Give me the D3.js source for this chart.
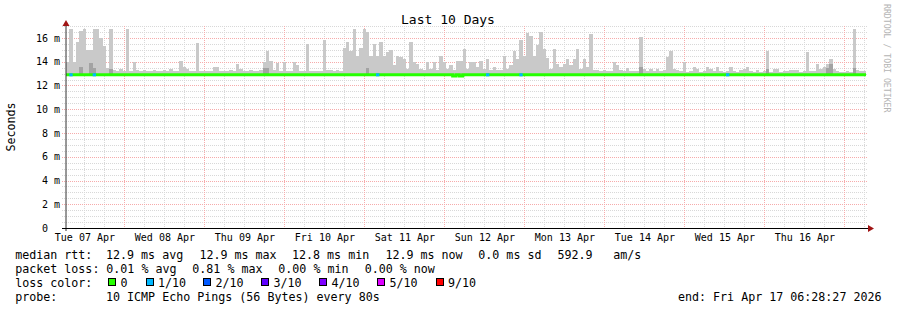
<!DOCTYPE html>
<html>
<head>
<meta charset="utf-8">
<script src="https://cdn.jsdelivr.net/npm/d3@7"></script>
<style>
body { margin: 0; background: #fff; }
svg text { font-family: "DejaVu Sans Mono", monospace; white-space: pre; }
</style>
</head>
<body>
<div class="container"></div>
<script>
const WIDTH = 897;
const HEIGHT = 310;
const PLOT_LEFT = 66;
const PLOT_RIGHT = 866;
const PLOT_BOTTOM = 228;
const PLOT_TOP = 26.125;

// graph end time, the graph covers 240 hourly buckets before it
const END_TIME = new Date(Date.UTC(2026, 3, 17, 6, 28, 27));
const HOURS = 240;

// highest ping of each hour (ms)
const smokeMax = [
    14.0, 16.8, 14.0, 15.7, 16.6, 16.8, 15.0, 15.0, 16.8, 16.8, 16.0, 15.3, 13.5, 16.8, 13.3, 13.25, 13.35, 13.2, 16.8, 13.25,
    14.0, 13.3, 13.25, 13.3, 13.25, 13.2, 13.3, 13.25, 13.2, 13.3, 13.25, 13.35, 13.2, 13.25, 14.1, 13.55, 13.4, 13.2, 13.25, 15.6,
    13.25, 13.2, 13.2, 13.25, 13.55, 13.6, 13.2, 13.25, 13.2, 13.3, 13.25, 13.8, 13.4, 13.2, 13.25, 13.3, 13.25, 13.2, 13.3, 14.0,
    14.9, 14.1, 13.3, 13.9, 13.25, 14.0, 13.2, 13.2, 13.95, 13.7, 13.2, 13.2, 15.5, 13.2, 13.2, 13.2, 13.25, 15.8, 13.3, 13.3,
    13.25, 13.3, 13.25, 15.2, 15.7, 14.9, 16.8, 14.5, 15.2, 16.8, 16.5, 14.5, 15.5, 14.5, 15.7, 14.5, 14.8, 15.0, 13.7, 14.5,
    14.4, 14.2, 13.4, 15.7, 14.0, 13.85, 13.4, 13.3, 14.0, 13.4, 14.0, 13.3, 14.5, 14.0, 13.4, 13.7, 13.3, 14.1, 14.1, 15.1,
    13.4, 14.0, 14.0, 13.56, 14.1, 13.4, 14.2, 13.3, 13.56, 13.3, 13.3, 14.5, 13.4, 13.7, 14.9, 14.26, 15.8, 14.5, 16.4, 16.2,
    14.5, 15.4, 16.5, 15.1, 14.3, 13.4, 15.1, 13.84, 13.56, 13.84, 14.26, 13.7, 14.26, 15.1, 13.4, 14.26, 13.56, 16.3, 13.3, 13.3,
    13.25, 13.3, 13.25, 13.2, 14.0, 13.7, 13.3, 13.25, 13.45, 13.25, 13.2, 13.25, 16.1, 13.4, 13.25, 13.4, 13.25, 13.4, 13.2, 13.3,
    14.4, 14.9, 13.4, 13.28, 13.2, 14.0, 13.15, 13.2, 13.56, 13.42, 13.15, 13.2, 13.6, 13.35, 13.2, 13.6, 13.25, 13.15, 13.2, 13.56,
    13.2, 13.15, 13.3, 13.35, 13.56, 13.2, 13.15, 13.3, 13.15, 13.2, 14.9, 13.15, 13.35, 13.35, 13.15, 13.2, 13.2, 13.3, 13.3, 13.3,
    13.15, 13.2, 14.8, 13.2, 13.2, 13.8, 13.4, 13.56, 13.8, 14.2, 13.4, 13.2, 13.15, 13.15, 13.2, 13.15, 16.8, 13.28, 13.2, 13.2
];

// median rtt of each hour (ms)
const median = [
    12.9, 12.9, 12.9, 12.9, 12.9, 12.9, 12.9, 12.9, 12.9, 12.9, 12.9, 12.9, 12.9, 12.9, 12.9, 12.9, 12.9, 12.9, 12.9, 12.9,
    12.9, 12.9, 12.9, 12.9, 12.9, 12.9, 12.9, 12.9, 12.9, 12.9, 12.9, 12.9, 12.9, 12.9, 12.9, 12.9, 12.9, 12.9, 12.9, 12.9,
    12.9, 12.9, 12.9, 12.9, 12.9, 12.9, 12.9, 12.9, 12.9, 12.9, 12.9, 12.9, 12.9, 12.9, 12.9, 12.9, 12.9, 12.9, 12.9, 12.9,
    12.9, 12.9, 12.9, 12.9, 12.9, 12.9, 12.9, 12.9, 12.9, 12.9, 12.9, 12.9, 12.9, 12.9, 12.9, 12.9, 12.9, 12.9, 12.9, 12.9,
    12.9, 12.9, 12.9, 12.9, 12.9, 12.9, 12.9, 12.9, 12.9, 12.9, 12.9, 12.9, 12.9, 12.9, 12.9, 12.9, 12.9, 12.9, 12.9, 12.9,
    12.9, 12.9, 12.9, 12.9, 12.9, 12.9, 12.9, 12.9, 12.9, 12.9, 12.9, 12.9, 12.9, 12.9, 12.9, 12.9, 12.8, 12.9, 12.8, 12.9,
    12.9, 12.9, 12.9, 12.9, 12.9, 12.9, 12.9, 12.9, 12.9, 12.9, 12.9, 12.9, 12.9, 12.9, 12.9, 12.9, 12.9, 12.9, 12.9, 12.9,
    12.9, 12.9, 12.9, 12.9, 12.9, 12.9, 12.9, 12.9, 12.9, 12.9, 12.9, 12.9, 12.9, 12.9, 12.9, 12.9, 12.9, 12.9, 12.9, 12.9,
    12.9, 12.9, 12.9, 12.9, 12.9, 12.9, 12.9, 12.9, 12.9, 12.9, 12.9, 12.9, 12.9, 12.9, 12.9, 12.9, 12.9, 12.9, 12.9, 12.9,
    12.9, 12.9, 12.9, 12.9, 12.9, 12.9, 12.9, 12.9, 12.9, 12.9, 12.9, 12.9, 12.9, 12.9, 12.9, 12.9, 12.9, 12.9, 12.9, 12.9,
    12.9, 12.9, 12.9, 12.9, 12.9, 12.9, 12.9, 12.9, 12.9, 12.9, 12.9, 12.9, 12.9, 12.9, 12.9, 12.9, 12.9, 12.9, 12.9, 12.9,
    12.9, 12.9, 12.9, 12.9, 12.9, 12.9, 12.9, 12.9, 12.9, 12.9, 12.9, 12.9, 12.9, 12.9, 12.9, 12.9, 12.9, 12.9, 12.9, 12.9
];

// darker inner smoke (hour index, top in ms)
const innerHours = [4, 7, 8, 13, 59, 60, 90, 172, 210, 228, 229, 236];
const innerTop = [13.6, 13.9, 13.5, 13.4, 13.5, 13.5, 13.5, 13.6, 13.4, 13.5, 13.8, 13.5];

// hours with packet loss (lost pings out of 10)
const lossHours = [1, 8, 93, 126, 136, 198];
const lossCount = [1, 1, 1, 1, 1, 1];

const yTicks = [0, 2, 4, 6, 8, 10, 12, 14, 16];

const lossLabels = ["0", "1/10", "2/10", "3/10", "4/10", "5/10", "9/10"];
const lossColors = ["#26ff00", "#00b8ff", "#0059ff", "#5e00ff", "#7e00ff", "#dd00ff", "#ff0000"];
const lossSteps = [0, 1, 2, 3, 4, 5, 9];

const rttStats = ["12.9 ms avg", "12.9 ms max", "12.8 ms min", "12.9 ms now", "0.0 ms sd", "592.9", "am/s"];
const lossStats = ["0.01 % avg", "0.81 % max", "0.00 % min", "0.00 % now"];
const probeText = "10 ICMP Echo Pings (56 Bytes) every 80s";

var startTime = d3.utcHour.offset(END_TIME, -HOURS);
var hourStart = function (i) { return d3.utcHour.offset(startTime, i); };

var _x = d3.scaleUtc()
    .domain([startTime, END_TIME])
    .range([PLOT_LEFT, PLOT_RIGHT]);

var _y = d3.scaleLinear()
    .domain([0, 17])
    .range([PLOT_BOTTOM, PLOT_TOP]);

var px = function (v) { return Math.round(v) + 0.5; };

var lossColor = function (n) {
    return lossColors[lossSteps.indexOf(n)];
};

var drawGrid = function (svg) {
    var g = svg.append("g").attr("shape-rendering", "crispEdges")
        .attr("stroke-dasharray", "1,1");

    var minorY = _y.ticks(34).filter(function (v) { return v % 2 !== 0; });
    g.selectAll(".hminor").data(minorY).enter().append("line")
        .attr("x1", 62).attr("x2", 867)
        .attr("y1", function (d) { return px(_y(d)); })
        .attr("y2", function (d) { return px(_y(d)); })
        .attr("stroke", "#d8d8d8");

    var minorX = d3.utcHour.every(6).range(startTime, END_TIME)
        .filter(function (d) { return d.getUTCHours() !== 0; });
    g.selectAll(".vminor").data(minorX).enter().append("line")
        .attr("x1", function (d) { return px(_x(d)); })
        .attr("x2", function (d) { return px(_x(d)); })
        .attr("y1", PLOT_TOP).attr("y2", PLOT_BOTTOM + 2)
        .attr("stroke", "#d8d8d8");

    g.selectAll(".hmajor").data(yTicks.slice(1)).enter().append("line")
        .attr("x1", 62).attr("x2", 867)
        .attr("y1", function (d) { return px(_y(d)); })
        .attr("y2", function (d) { return px(_y(d)); })
        .attr("stroke", "#f6abab");

    g.selectAll(".vmajor").data(d3.utcDay.range(startTime, END_TIME)).enter().append("line")
        .attr("x1", function (d) { return px(_x(d)); })
        .attr("x2", function (d) { return px(_x(d)); })
        .attr("y1", PLOT_TOP).attr("y2", PLOT_BOTTOM + 2)
        .attr("stroke", "#f6abab");
};

var drawSmoke = function (svg) {
    var g = svg.append("g").attr("shape-rendering", "crispEdges");
    g.selectAll(".smoke").data(smokeMax).enter().append("rect")
        .attr("x", function (d, i) { return _x(hourStart(i)); })
        .attr("width", function (d, i) { return _x(hourStart(i + 1)) - _x(hourStart(i)); })
        .attr("y", function (d) { return _y(d); })
        .attr("height", function (d, i) { return _y(median[i]) - _y(d); })
        .attr("fill", "#c9c9c9");

    g.selectAll(".inner").data(innerHours).enter().append("rect")
        .attr("x", function (h) { return _x(hourStart(h)); })
        .attr("width", function (h) { return _x(hourStart(h + 1)) - _x(hourStart(h)); })
        .attr("y", function (h, k) { return _y(innerTop[k]); })
        .attr("height", function (h, k) { return _y(median[h]) - _y(innerTop[k]); })
        .attr("fill", "#a3a3a3");
};

var drawMedian = function (svg) {
    var pts = median.map(function (v, i) { return [hourStart(i), v]; });
    pts.push([END_TIME, median[HOURS - 1]]);

    var line = d3.line()
        .x(function (d) { return _x(d[0]); })
        .y(function (d) { return _y(d[1]); })
        .curve(d3.curveStepAfter);

    svg.append("path")
        .attr("d", line(pts))
        .attr("fill", "none")
        .attr("stroke", lossColor(0))
        .attr("stroke-width", 3)
        .attr("stroke-linejoin", "miter");

    svg.selectAll(".loss").data(lossHours).enter().append("line")
        .attr("x1", function (h) { return _x(hourStart(h)); })
        .attr("x2", function (h) { return _x(hourStart(h + 1)); })
        .attr("y1", function (h) { return _y(median[h]); })
        .attr("y2", function (h) { return _y(median[h]); })
        .attr("stroke", function (h, k) { return lossColor(lossCount[k]); })
        .attr("stroke-width", 3);
};

var drawAxes = function (svg) {
    var yAxis = d3.axisLeft(_y)
        .tickValues(yTicks)
        .tickSize(0)
        .tickPadding(6)
        .tickFormat(function (d) { return d === 0 ? "0  " : d + " m"; });

    var gy = svg.append("g")
        .attr("transform", "translate(" + PLOT_LEFT + ",0)")
        .call(yAxis);
    gy.select(".domain").remove();
    gy.selectAll("text").attr("font-family", "DejaVu Sans Mono").attr("font-size", 10).attr("fill", "#000");

    var noons = d3.utcDay.range(d3.utcDay.floor(startTime), END_TIME)
        .map(function (d) { return d3.utcHour.offset(d, 12); })
        .filter(function (d) { return d >= startTime && d <= END_TIME; });

    var xAxis = d3.axisBottom(_x)
        .tickValues(noons)
        .tickSize(0)
        .tickPadding(6)
        .tickFormat(d3.utcFormat("%a %d %b"));

    var gx = svg.append("g")
        .attr("transform", "translate(0," + PLOT_BOTTOM + ")")
        .call(xAxis);
    gx.select(".domain").remove();
    gx.selectAll("text").attr("font-family", "DejaVu Sans Mono").attr("font-size", 10).attr("fill", "#000");

    // axis lines with arrows
    svg.append("line")
        .attr("x1", PLOT_LEFT).attr("x2", PLOT_LEFT)
        .attr("y1", PLOT_BOTTOM + 3).attr("y2", 24)
        .attr("stroke", "#333");
    svg.append("line")
        .attr("x1", 62).attr("x2", 869)
        .attr("y1", PLOT_BOTTOM + 0.5).attr("y2", PLOT_BOTTOM + 0.5)
        .attr("stroke", "#000")
        .attr("shape-rendering", "crispEdges");
    svg.append("path")
        .attr("d", "M62.5,26L66,20L69.5,26Z")
        .attr("fill", "#a01414");
    svg.append("path")
        .attr("d", "M868,225L874,228.5L868,232Z")
        .attr("fill", "#a01414");
};

var drawLabels = function (svg) {
    svg.append("text")
        .attr("x", 448).attr("y", 24)
        .attr("text-anchor", "middle")
        .attr("font-size", 13)
        .text("Last 10 Days");

    svg.append("text")
        .attr("transform", "translate(15,127) rotate(-90)")
        .attr("text-anchor", "middle")
        .attr("font-size", 11.66)
        .text("Seconds");

    svg.append("text")
        .attr("transform", "translate(883.5,4) rotate(90)")
        .attr("font-size", 8.2)
        .attr("fill", "#b4b4b4")
        .text("RRDTOOL / TOBI OETIKER");
};

var drawLegend = function (svg) {
    var g = svg.append("g").attr("font-size", 11.66).attr("fill", "#000");
    var rowY = [258.5, 272.5, 286.5, 300.5];

    var put = function (x, y, s, anchor) {
        g.append("text").attr("x", x).attr("y", y)
            .attr("text-anchor", anchor || "start").text(s);
    };

    put(15.2, rowY[0], "median rtt:");
    var rttX = [106, 199.4, 292, 385.4, 478.3, 557.4, 613.3];
    rttStats.forEach(function (s, i) { put(rttX[i], rowY[0], s); });

    put(15.2, rowY[1], "packet loss:");
    var lossX = [106.3, 192.3, 278.3, 364.7];
    lossStats.forEach(function (s, i) { put(lossX[i], rowY[1], s); });

    put(15.2, rowY[2], "loss color:");
    var boxX = [108, 145.5, 203, 261, 319, 377, 435.5];
    lossLabels.forEach(function (s, i) {
        g.append("rect")
            .attr("x", boxX[i] + 0.5).attr("y", 278.5)
            .attr("width", 7).attr("height", 7)
            .attr("fill", lossColors[i])
            .attr("stroke", "#000")
            .attr("shape-rendering", "crispEdges");
        put(boxX[i] + 12.5, rowY[2], s);
    });

    put(15.2, rowY[3], "probe:");
    put(106, rowY[3], probeText);
    put(881.5, rowY[3], "end: " + d3.utcFormat("%a %b %d %H:%M:%S %Y")(END_TIME), "end");
};

var loadChart = function () {
    var svg = d3.select(".container").append("svg")
        .attr("width", WIDTH)
        .attr("height", HEIGHT)
        .style("display", "block")
        .style("background", "#fff");

    drawGrid(svg);
    drawSmoke(svg);
    drawMedian(svg);
    drawAxes(svg);
    drawLabels(svg);
    drawLegend(svg);
};

window.onload = loadChart;
</script>
</body>
</html>
